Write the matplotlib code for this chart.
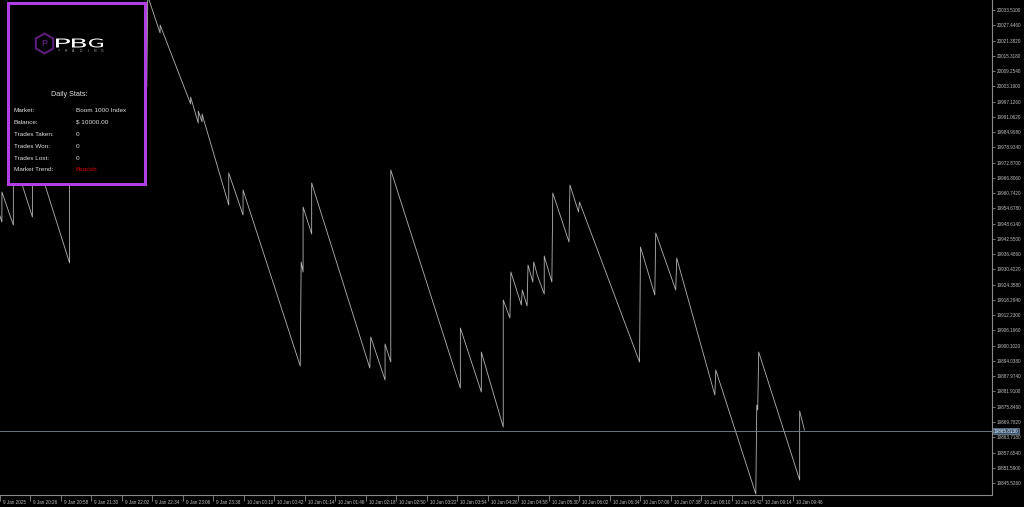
#!/usr/bin/env python3
"""MT5-style Boom 1000 tick chart with a Daily Stats panel."""

import matplotlib
matplotlib.use("Agg")
import matplotlib.pyplot as plt
from matplotlib.patches import Rectangle, RegularPolygon, PathPatch
from matplotlib.textpath import TextPath
from matplotlib.font_manager import FontProperties
from matplotlib.transforms import Affine2D

plt.rcParams.update({
    "font.family": ["Liberation Sans", "DejaVu Sans"],
    "axes.unicode_minus": False,
})

# --- Data ---

# minutes since 9 Jan 19:54 and price at each vertex of the line
minutes = [0, 2, 2, 14, 14, 34, 34, 73, 73, 100, 100, 126, 126, 154, 155,
           168, 168, 200, 200, 208, 208, 212, 212, 240, 240, 255, 255,
           315, 316, 318, 318, 327, 327, 388, 389, 404, 404, 410, 410,
           483, 483, 505, 505, 528, 528, 535, 536, 547, 548, 553, 554,
           559, 560, 564, 571, 571, 579, 580, 597, 598, 607, 608,
           671, 672, 687, 688, 709, 710, 750, 751, 793, 794, 795, 796,
           839, 839, 844]
prices = [19951.64, 19949.26, 19961.18, 19948.06, 19975.09, 19951.24, 19979.86,
          19932.96, 20025.56, 19995.75, 20021.58, 19991.78, 20031.52, 20002.91,
          20039.07, 20024.37, 20027.55, 19996.15, 19998.93, 19988.60, 19993.37,
          19989.00, 19992.18, 19956.01, 19968.73, 19952.04, 19961.97,
          19892.03, 19933.36, 19929.39, 19955.22, 19944.49, 19964.75,
          19891.24, 19903.56, 19886.47, 19900.77, 19893.62, 19969.92,
          19883.29, 19907.13, 19881.70, 19897.58, 19867.79, 19918.26,
          19911.11, 19929.39, 19916.27, 19922.23, 19915.88, 19932.17,
          19925.41, 19933.36, 19927.80, 19920.64, 19935.75, 19925.41,
          19960.78, 19941.31, 19963.96, 19953.23, 19957.21,
          19893.62, 19939.32, 19920.25, 19944.89, 19922.23, 19934.95,
          19880.51, 19890.44, 19841.17, 19876.53, 19874.55, 19897.60,
          19846.73, 19874.15, 19866.60]
current_price = 19866.20
current_label = "19865.8130"

price_ticks = [19845.526, 19851.590, 19857.654, 19863.718, 19869.782, 19875.846,
               19881.910, 19887.974, 19894.038, 19900.102, 19906.166, 19912.230,
               19918.294, 19924.358, 19930.422, 19936.486, 19942.550, 19948.614,
               19954.678, 19960.742, 19966.806, 19972.870, 19978.934, 19984.998,
               19991.062, 19997.126, 20003.190, 20009.254, 20015.318, 20021.382,
               20027.446, 20033.510]

time_ticks = [0, 32, 64, 96, 128, 160, 192, 224, 256, 288, 320, 352, 384, 416,
              448, 480, 512, 544, 576, 608, 640, 672, 704, 736, 768, 800, 832]
time_labels = ["9 Jan 2025", "9 Jan 20:26", "9 Jan 20:58", "9 Jan 21:30",
               "9 Jan 22:02", "9 Jan 22:34", "9 Jan 23:06", "9 Jan 23:38",
               "10 Jan 00:10", "10 Jan 00:42", "10 Jan 01:14", "10 Jan 01:46",
               "10 Jan 02:18", "10 Jan 02:50", "10 Jan 03:22", "10 Jan 03:54",
               "10 Jan 04:26", "10 Jan 04:58", "10 Jan 05:30", "10 Jan 06:02",
               "10 Jan 06:34", "10 Jan 07:06", "10 Jan 07:38", "10 Jan 08:10",
               "10 Jan 08:42", "10 Jan 09:14", "10 Jan 09:46"]

stat_names = ["Market:", "Balance:", "Trades Taken:", "Trades Won:",
              "Trades Lost:", "Market Trend:"]
stat_values = ["Boom 1000 Index", "$ 10000.00", "0", "0", "0", "Bearish"]

# --- Colors ---
bg = "black"
line_color = "#b4b4b4"
axis_color = "#8a8a8a"
text_color = "#c0c0c0"
panel_edge = "#b03fe6"
logo_purple = "#5b1d7c"

W, H = 1024, 507
fig = plt.figure(figsize=(W / 100, H / 100), dpi=100)
fig.set_facecolor(bg)


def fx(px):
    return px / W


def fy(py):
    return 1 - py / H


ax = fig.add_axes([0, fy(495), fx(992), 495 / H])
ax.set_facecolor(bg)
ax.plot(minutes, prices, color=line_color, linewidth=0.6)
ax.axhline(current_price, color="#7a8a99", linewidth=0.6)

ax.set_xlim(0, 1040.8)
ax.set_ylim(19840.77, 20037.48)

for s in ["top", "left"]:
    ax.spines[s].set_visible(False)
for s in ["right", "bottom"]:
    ax.spines[s].set_color(axis_color)
    ax.spines[s].set_linewidth(0.8)

ax.yaxis.tick_right()
ax.set_yticks(price_ticks)
ax.set_yticklabels([f"{v:.4f}" for v in price_ticks])
ax.tick_params(axis="y", colors=axis_color, labelcolor=text_color,
               labelsize=3.3, length=2.5, width=0.6, pad=1)

ax.set_xticks(time_ticks)
ax.set_xticklabels([])
ax.tick_params(axis="x", colors=axis_color, length=4, width=0.6, direction="out")
for t, lab in zip(time_ticks, time_labels):
    ax.annotate(lab, xy=(t, 0), xycoords=("data", "axes fraction"),
                xytext=(2, -5.5), textcoords="offset points",
                ha="left", va="center", fontsize=3.3, color=text_color,
                annotation_clip=False)

# current price tag
ax.annotate(current_label, xy=(1, current_price), xycoords=("axes fraction", "data"),
            xytext=(1.5, 0), textcoords="offset points", ha="left", va="center",
            fontsize=3.3, color="#e8eef5", annotation_clip=False,
            bbox=dict(boxstyle="square,pad=0.15", fc="#3d5670", ec="#8aa0b8", lw=0.4))

# --- Stats panel ---
fig.add_artist(Rectangle((fx(8), fy(184)), fx(145) - fx(8), fy(3) - fy(184),
                         transform=fig.transFigure, facecolor=bg,
                         edgecolor=panel_edge, linewidth=2.2, zorder=5))

# logo: hexagon (pixel units via inches) + stretched PBG letters
px_tr = fig.dpi_scale_trans  # 1 unit = 100 px
fig.add_artist(RegularPolygon((44.5 / 100, (H - 43.5) / 100), 6, radius=0.10,
                              orientation=0, transform=px_tr,
                              facecolor="none", edgecolor=logo_purple,
                              linewidth=1.5, zorder=6))
fig.text(fx(44.5), fy(43.5), "P", ha="center", va="center", fontsize=6.5,
         fontweight="bold", color=logo_purple, zorder=7)

logo_font = FontProperties(family="DejaVu Sans")
for ch, x0 in zip("PBG", [56, 72, 89]):
    tp = TextPath((0, 0), ch, size=1, prop=logo_font)
    ext = tp.get_extents()
    sx = 14 / ext.width / 100
    sy = 9 / ext.height / 100
    tr = (Affine2D().translate(-ext.x0, -ext.y0).scale(sx, sy)
          .translate(x0 / 100, (H - 47.5) / 100))
    fig.add_artist(PathPatch(tr.transform_path(tp), transform=px_tr,
                             facecolor="white", edgecolor="none", zorder=7))
for i, ch in enumerate("TRADING"):
    fig.text(fx(59 + i * 7.2), fy(51.5), ch, ha="center", va="center",
             fontsize=2.5, color="#aaaaaa", zorder=7)

fig.text(fx(69), fy(94), "Daily Stats:", ha="center", va="center",
         fontsize=5.2, color="#dddddd", zorder=7)
for i, (name, val) in enumerate(zip(stat_names, stat_values)):
    yy = fy(110 + i * 12)
    fig.text(fx(14), yy, name, ha="left", va="center", fontsize=4.6,
             color="#dddddd", zorder=7)
    fig.text(fx(76), yy, val, ha="left", va="center", fontsize=4.6,
             color="#d40000" if val == "Bearish" else "#dddddd", zorder=7)

fig.savefig("out.png", dpi=100, facecolor=bg)
